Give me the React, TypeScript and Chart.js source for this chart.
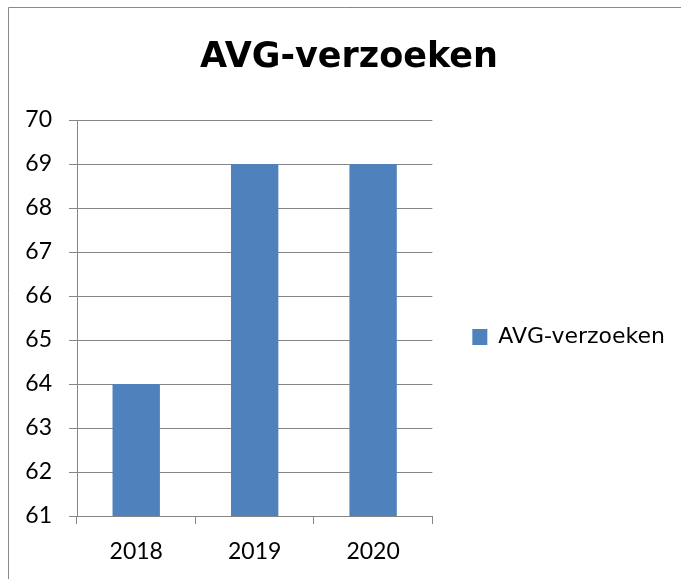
import React, { useEffect, useRef } from "react";
import { Chart, registerables } from "chart.js";

Chart.register(...registerables);

const categories = ["2018", "2019", "2020"];
const seriesName = "AVG-verzoeken";
const values = [64, 69, 69];
const yMin = 61;
const yMax = 70;
const yStep = 1;

const framePlugin = {
  id: "frame",
  afterDraw(chart: any) {
    const ctx = chart.ctx;
    ctx.save();
    ctx.strokeStyle = "#898989";
    ctx.lineWidth = 1;
    ctx.beginPath();
    ctx.moveTo(8.5, 700);
    ctx.lineTo(8.5, 7.5);
    ctx.lineTo(700, 7.5);
    ctx.stroke();
    ctx.restore();
  },
};

export default function App() {
  const ref = useRef<HTMLCanvasElement>(null);
  useEffect(() => {
    if (!ref.current) return;
    Chart.defaults.font.family = "Lato";
    const grid = "#868686";
    const chart = new Chart(ref.current, {
      type: "bar",
      data: {
        labels: categories,
        datasets: [
          {
            label: seriesName,
            data: values,
            backgroundColor: "#4F81BD",
            borderWidth: 0,
            categoryPercentage: 1,
            barPercentage: 0.4,
          },
        ],
      },
      options: {
        responsive: false,
        animation: false,
        layout: { padding: { left: 23, right: 6, top: 0, bottom: 0 } },
        plugins: {
          title: {
            display: true,
            text: seriesName,
            color: "#000",
            font: { size: 35, weight: "bold", family: "'DejaVu Sans'" },
            padding: { top: 36.5, bottom: 41.5 },
          },
          legend: {
            position: "right",
            maxWidth: 400,
            title: { display: true, text: "", font: { size: 10 }, padding: { top: 83, bottom: 0 } },
            labels: {
              color: "#000",
              boxWidth: 15,
              boxHeight: 16,
              padding: 40,
              font: { size: 22, family: "'DejaVu Sans'" },
            },
          },
          tooltip: { enabled: false },
        },
        scales: {
          x: {
            grid: {
              drawOnChartArea: false,
              drawTicks: true,
              tickLength: 8,
              color: grid,
              offset: true,
            },
            border: { color: grid },
            ticks: { color: "#000", font: { size: 23 }, padding: 14 },
            afterFit: (s: any) => {
              s.height = 63;
            },
          },
          y: {
            min: yMin,
            max: yMax,
            grid: { color: grid, tickLength: 8, drawTicks: true },
            border: { color: grid },
            ticks: { stepSize: yStep, color: "#000", font: { size: 23 }, padding: 17 },
            afterFit: (s: any) => {
              s.width = 54;
            },
          },
        },
      },
      plugins: [framePlugin],
    });
    return () => chart.destroy();
  }, []);
  return (
    <div style={{ position: "fixed", left: 0, top: 0, width: 681, height: 579, background: "#fff" }}>
      <canvas ref={ref} width={681} height={579} style={{ display: "block" }} />
    </div>
  );
}
